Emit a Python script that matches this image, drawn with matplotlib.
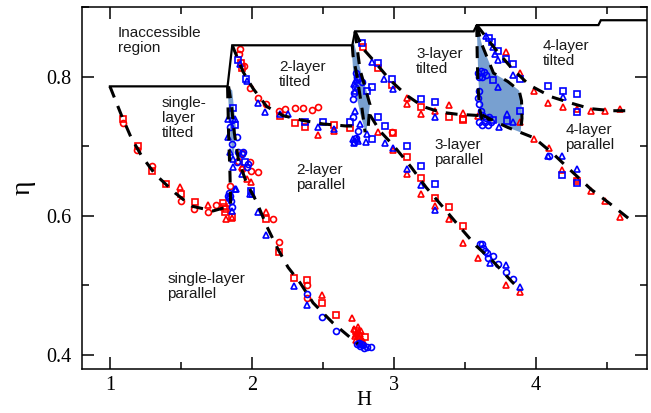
import matplotlib
matplotlib.use("Agg")
import matplotlib.pyplot as plt
from matplotlib.ticker import MultipleLocator

# ---- accessible-region boundary (solid) ----
bound_H = [1.0, 1.828, 1.861, 2.706, 2.725, 3.56, 3.582, 4.438, 4.455, 4.80]
bound_eta = [0.786, 0.786, 0.845, 0.845, 0.865, 0.865, 0.874, 0.874, 0.881, 0.881]

# ---- phase boundaries (dashed) ----
tilt1_H = [1.0, 1.082, 1.148, 1.223, 1.317, 1.458, 1.575, 1.725, 1.845]
tilt1_eta = [0.786, 0.744, 0.713, 0.686, 0.660, 0.633, 0.614, 0.607, 0.614]
edge1_H = [1.828, 1.835, 1.845, 1.85]
edge1_eta = [0.786, 0.72, 0.66, 0.615]
par2_H = [1.835, 1.855, 1.875, 1.905, 1.96, 2.033, 2.104, 2.183, 2.254, 2.338, 2.43, 2.57, 2.71, 2.745]
par2_eta = [0.786, 0.76, 0.72, 0.68, 0.648, 0.620, 0.585, 0.552, 0.526, 0.504, 0.475, 0.446, 0.422, 0.416]
tilt2_H = [1.861, 1.937, 2.007, 2.104, 2.218, 2.359, 2.50, 2.667, 2.706]
tilt2_eta = [0.845, 0.807, 0.783, 0.757, 0.744, 0.737, 0.732, 0.729, 0.729]
edge3l_H = [2.706, 2.711, 2.739, 2.775, 2.796]
edge3l_eta = [0.845, 0.830, 0.801, 0.753, 0.720]
edge3r_H = [2.725, 2.76, 2.83, 2.815]
edge3r_eta = [0.865, 0.81, 0.76, 0.72]
tilt3_H = [2.725, 2.782, 2.852, 2.972, 3.089, 3.204, 3.324, 3.442, 3.606, 3.675]
tilt3_eta = [0.865, 0.840, 0.824, 0.795, 0.773, 0.757, 0.749, 0.746, 0.744, 0.738]
par3_H = [2.83, 2.90, 3.0, 3.12, 3.225, 3.338, 3.458, 3.577, 3.69, 3.831, 3.866]
par3_eta = [0.745, 0.722, 0.700, 0.670, 0.641, 0.614, 0.585, 0.557, 0.536, 0.505, 0.498]
edge4l_H = [3.582, 3.585, 3.59, 3.60, 3.62]
edge4l_eta = [0.874, 0.83, 0.79, 0.755, 0.738]
edge4r_H = [3.582, 3.62, 3.70, 3.80, 3.88, 3.897, 3.90, 3.89]
edge4r_eta = [0.874, 0.845, 0.805, 0.793, 0.78, 0.765, 0.74, 0.72]
tilt4_H = [3.582, 3.711, 3.824, 3.951, 4.106, 4.261, 4.380, 4.535, 4.683]
tilt4_eta = [0.874, 0.840, 0.813, 0.788, 0.771, 0.761, 0.754, 0.751, 0.751]
par4_H = [3.62, 3.676, 3.80, 3.887, 3.986, 4.120, 4.239, 4.387, 4.535, 4.683]
par4_eta = [0.745, 0.739, 0.727, 0.720, 0.712, 0.689, 0.666, 0.638, 0.615, 0.591]

# ---- coexistence regions (shaded) ----
shade2_H = [1.828, 1.861, 1.887, 1.866, 1.845]
shade2_eta = [0.786, 0.780, 0.725, 0.674, 0.725]
shade3_H = [2.711, 2.761, 2.831, 2.803, 2.761, 2.718, 2.704]
shade3_eta = [0.855, 0.812, 0.761, 0.718, 0.747, 0.790, 0.833]
shade4_H = [3.582, 3.62, 3.70, 3.80, 3.88, 3.897, 3.90, 3.89, 3.80, 3.68, 3.61, 3.595, 3.588]
shade4_eta = [0.874, 0.845, 0.805, 0.793, 0.78, 0.765, 0.74, 0.72, 0.727, 0.737, 0.75, 0.79, 0.83]

# ---- simulation points ----
red_sq_H = [1.094, 1.195, 1.293, 1.394, 1.497, 1.599, 1.798, 1.857, 1.82, 1.92, 1.93,
            2.197, 2.302, 2.372, 2.578, 2.098, 2.192, 2.295, 2.389, 2.491, 2.591, 2.795, 2.69,
            2.784, 2.890, 2.983, 3.187, 3.389, 3.488, 2.991, 3.089, 3.190, 3.288, 3.389, 3.488,
            3.488, 4.286, 1.80, 1.81, 2.73, 2.75]
red_sq_eta = [0.739, 0.701, 0.664, 0.646, 0.631, 0.620, 0.619, 0.599, 0.610, 0.820, 0.812,
              0.744, 0.733, 0.728, 0.730, 0.596, 0.548, 0.511, 0.508, 0.475, 0.458, 0.426, 0.726,
              0.843, 0.812, 0.788, 0.756, 0.742, 0.739, 0.719, 0.684, 0.655, 0.626, 0.612, 0.585,
              0.738, 0.650, 0.612, 0.606, 0.435, 0.428]
red_ci_H = [1.094, 1.192, 1.293, 1.497, 1.594, 1.692, 1.746, 1.845,
            1.927, 1.986, 1.993, 2.044, 1.90, 1.93,
            1.915, 1.905, 1.945, 1.986, 2.044, 2.098, 2.192, 2.232, 2.30, 2.36, 2.42, 2.466,
            2.146, 2.192, 2.389, 2.389, 2.983]
red_ci_eta = [0.733, 0.694, 0.672, 0.622, 0.610, 0.605, 0.615, 0.643,
              0.690, 0.677, 0.665, 0.663, 0.679, 0.668,
              0.840, 0.832, 0.815, 0.783, 0.770, 0.761, 0.751, 0.754, 0.755, 0.755, 0.752, 0.757,
              0.596, 0.563, 0.501, 0.482, 0.721]
red_tr_H = [1.493, 1.692, 1.817, 1.861,
            1.927, 1.962, 1.993, 2.466, 2.578,
            2.098, 2.491, 2.702, 2.72, 2.73, 2.74, 2.75, 2.76, 2.735, 2.755, 2.77, 2.78, 2.725,
            2.765, 2.745,
            3.089, 3.089, 3.187, 3.288, 3.389, 3.488, 3.589,
            2.890, 2.995, 3.089, 3.190, 3.288, 3.389, 3.488, 3.593, 3.788, 3.886,
            3.788, 3.886, 3.985, 4.086, 4.187, 4.286, 4.384, 4.485, 4.587, 3.886,
            3.988, 4.087, 4.184, 4.286, 4.386, 4.486, 4.587]
red_tr_eta = [0.641, 0.615, 0.596, 0.597,
              0.670, 0.653, 0.648, 0.716, 0.722,
              0.605, 0.487, 0.453, 0.437, 0.430, 0.432, 0.426, 0.430, 0.422, 0.419, 0.423, 0.420,
              0.427, 0.435, 0.440,
              0.769, 0.760, 0.747, 0.751, 0.759, 0.748, 0.743,
              0.720, 0.694, 0.660, 0.632, 0.614, 0.595, 0.561, 0.540, 0.501, 0.491,
              0.836, 0.805, 0.780, 0.762, 0.756, 0.753, 0.751, 0.751, 0.754, 0.735,
              0.711, 0.697, 0.666, 0.653, 0.635, 0.621, 0.599]
blue_sq_H = [1.868, 1.880, 1.950, 1.993,
             1.90, 1.957, 2.372, 2.50, 2.69,
             2.843, 2.808, 2.843, 2.89, 2.936,
             2.772, 2.890, 2.983, 3.187, 3.288,
             3.089, 3.190, 3.288,
             3.67, 3.687, 3.734, 3.788, 3.839, 3.886, 4.086, 4.187, 4.286, 4.286, 3.699, 3.793,
             3.886, 3.699,
             4.184, 4.286]
blue_sq_eta = [0.755, 0.730, 0.678, 0.636,
               0.824, 0.797, 0.735, 0.735, 0.735,
               0.785, 0.780, 0.710, 0.742, 0.729,
               0.848, 0.819, 0.796, 0.768, 0.763,
               0.701, 0.671, 0.646,
               0.855, 0.850, 0.837, 0.826, 0.818, 0.797, 0.786, 0.780, 0.775, 0.749, 0.795, 0.736,
               0.751, 0.737,
               0.659, 0.647]
blue_ci_H = [1.838, 1.857, 1.857, 1.845, 1.892, 1.857, 1.903, 1.931, 1.892, 1.962, 1.833,
             1.938, 1.974, 1.845, 1.85, 1.84,
             2.389, 2.591, 2.74, 2.76, 2.78, 2.79, 2.81, 2.84, 2.491, 2.75, 2.77,
             2.737, 2.772, 2.713, 2.713, 2.749, 2.73, 2.745, 2.725, 2.72, 2.735, 2.715,
             3.605, 3.628, 3.652, 3.699, 3.663, 3.734, 3.788, 3.840, 3.62, 3.64,
             3.59, 3.61, 3.63, 3.65, 3.60, 3.62, 3.59, 3.60, 3.61, 3.60, 3.62, 3.60, 3.62, 3.64,
             3.66, 3.68, 3.67, 3.65,
             4.087]
blue_ci_eta = [0.626, 0.612, 0.737, 0.727, 0.713, 0.703, 0.691, 0.689, 0.677, 0.670, 0.629,
               0.691, 0.674, 0.629, 0.622, 0.633,
               0.488, 0.435, 0.416, 0.413, 0.414, 0.410, 0.412, 0.411, 0.454, 0.418, 0.416,
               0.800, 0.792, 0.768, 0.742, 0.722, 0.805, 0.796, 0.785, 0.776, 0.712, 0.706,
               0.559, 0.554, 0.547, 0.543, 0.540, 0.531, 0.519, 0.510, 0.560, 0.550,
               0.805, 0.808, 0.806, 0.803, 0.800, 0.800, 0.770, 0.760, 0.750, 0.780, 0.745, 0.735,
               0.730, 0.735, 0.730, 0.735, 0.742, 0.740,
               0.686]
blue_tr_H = [1.880, 1.857, 1.829, 1.880, 1.833, 1.845, 1.868, 1.868, 1.927, 1.986,
             1.915, 1.968, 2.042, 2.091, 2.197, 2.25, 2.466, 2.58,
             1.887, 1.997, 2.044, 2.098, 2.295, 2.389,
             2.725, 2.725, 2.760, 2.808, 2.713, 2.802, 2.749, 2.72, 2.73, 2.74, 2.72,
             2.843, 2.929, 2.990, 3.288,
             2.936, 2.995, 3.089, 3.187, 3.288, 3.675, 3.788, 3.886,
             3.647, 3.699, 3.710, 3.734, 3.839, 4.187, 3.734, 3.793, 3.840, 3.741,
             4.184, 4.286, 4.086]
blue_tr_eta = [0.638, 0.607, 0.739, 0.739, 0.713, 0.691, 0.682, 0.670, 0.660, 0.631,
               0.818, 0.793, 0.762, 0.749, 0.747, 0.747, 0.728, 0.725,
               0.639, 0.631, 0.606, 0.573, 0.499, 0.472,
               0.780, 0.751, 0.732, 0.718, 0.710, 0.706, 0.708, 0.790, 0.795, 0.710, 0.705,
               0.821, 0.797, 0.782, 0.742,
               0.705, 0.698, 0.667, 0.645, 0.608, 0.532, 0.529, 0.498,
               0.858, 0.843, 0.833, 0.824, 0.802, 0.771, 0.785, 0.747, 0.735, 0.728,
               0.686, 0.668, 0.686]

# ---- region labels: (text, H, eta) ----
labels = [
    ("Inaccessible\nregion", 1.054, 0.873),
    ("single-\nlayer\ntilted", 1.364, 0.772),
    ("2-layer\ntilted", 2.192, 0.824),
    ("2-layer\nparallel", 2.308, 0.676),
    ("3-layer\ntilted", 3.155, 0.842),
    ("3-layer\nparallel", 3.284, 0.712),
    ("4-layer\ntilted", 4.047, 0.854),
    ("4-layer\nparallel", 4.204, 0.734),
    ("single-layer\nparallel", 1.403, 0.520),
]

fig = plt.figure(figsize=(6.51, 4.13), dpi=100)
ax = fig.add_axes([81.5 / 651, 1 - 369 / 413, (647 - 81.5) / 651, (369 - 7) / 413])

shade = "#78a0d0"
for sh, se in [(shade2_H, shade2_eta), (shade3_H, shade3_eta), (shade4_H, shade4_eta)]:
    ax.fill(sh, se, color=shade, lw=0, zorder=1)

mk = dict(linestyle="none", markersize=4.3, markeredgewidth=1.2, markerfacecolor="none", zorder=3)
ax.plot(red_sq_H, red_sq_eta, marker="s", markeredgecolor="red", **mk)
ax.plot(red_ci_H, red_ci_eta, marker="o", markeredgecolor="red", **mk)
ax.plot(red_tr_H, red_tr_eta, marker="^", markeredgecolor="red", **mk)
ax.plot(blue_sq_H, blue_sq_eta, marker="s", markeredgecolor="blue", **mk)
ax.plot(blue_ci_H, blue_ci_eta, marker="o", markeredgecolor="blue", **mk)
ax.plot(blue_tr_H, blue_tr_eta, marker="^", markeredgecolor="blue", **mk)

dashed = [(tilt1_H, tilt1_eta), (edge1_H, edge1_eta), (par2_H, par2_eta), (tilt2_H, tilt2_eta),
          (edge3l_H, edge3l_eta), (edge3r_H, edge3r_eta), (tilt3_H, tilt3_eta), (par3_H, par3_eta),
          (edge4l_H, edge4l_eta), (edge4r_H, edge4r_eta), (tilt4_H, tilt4_eta), (par4_H, par4_eta)]
for dh, de in dashed:
    ax.plot(dh, de, color="black", lw=2.2, linestyle=(0, (3.9, 3.0)), zorder=4)

ax.plot(bound_H, bound_eta, color="black", lw=1.6, zorder=5, solid_joinstyle="miter")

for txt, h, e in labels:
    ax.text(h, e, txt, ha="left", va="top", fontsize=11, family="Liberation Sans",
            linespacing=1.1, color="#1a1a1a", zorder=6)

ax.set_xlim(0.8, 4.78)
ax.set_ylim(0.38, 0.90)
ax.xaxis.set_major_locator(MultipleLocator(1))
ax.xaxis.set_minor_locator(MultipleLocator(0.5))
ax.yaxis.set_major_locator(MultipleLocator(0.2))
ax.yaxis.set_minor_locator(MultipleLocator(0.1))
ax.tick_params(which="both", direction="in", top=True, right=True, width=1.1,
               labelsize=14.5, labelfontfamily="Liberation Serif")
ax.tick_params(which="major", length=8.5)
ax.tick_params(which="minor", length=5)
ax.tick_params(axis="y", pad=7)
ax.tick_params(axis="x", pad=5)
for sp in ax.spines.values():
    sp.set_linewidth(1.1)

ax.set_xlabel("H", fontsize=15, family="Liberation Serif", labelpad=-3)
ax.set_ylabel("η", fontsize=20, family="Liberation Serif", labelpad=8)

fig.savefig("out.png", dpi=100)
